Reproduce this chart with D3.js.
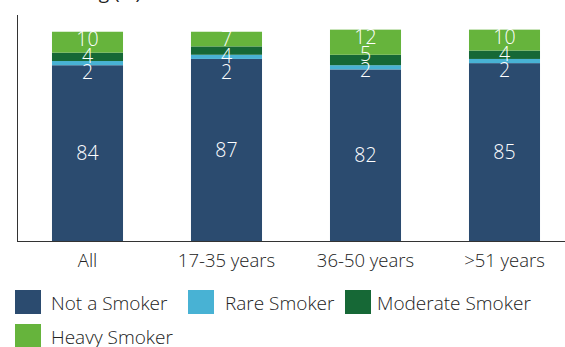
<!DOCTYPE html>
<html><head><meta charset="utf-8">
<script src="https://cdn.jsdelivr.net/npm/d3@7"></script>
<style>
html,body{margin:0;padding:0;background:#fff;}
svg{display:block;font-family:"Open Sans",sans-serif;}
</style></head>
<body>
<svg id="chart" width="565" height="347"></svg>
<script>
const categories = ["All", "17-35 years", "36-50 years", ">51 years"];
const seriesNames = ["Not a Smoker", "Rare Smoker", "Moderate Smoker", "Heavy Smoker"];
const notSmoker = [84, 87, 82, 85];
const rareSmoker = [2, 2, 2, 2];
const moderateSmoker = [4, 4, 5, 4];
const heavySmoker = [10, 7, 12, 10];
const colors = ["#2b4b6f", "#48b2d4", "#166836", "#66b43c"];
const title = "Smoking (%)";

const series = [notSmoker, rareSmoker, moderateSmoker, heavySmoker];
const rows = categories.map((c, i) => {
  const r = {cat: c};
  seriesNames.forEach((s, j) => r[s] = series[j][i]);
  return r;
});

const svg = d3.select("#chart");
const x = d3.scaleBand().domain(categories).range([18, 574]).paddingInner(0.489).paddingOuter(0.2445);
const y = d3.scaleLinear().domain([0, 108]).range([241, 15]);

const stack = d3.stack().keys(seriesNames)(rows);

// title (mostly cropped at top)
svg.append("text").attr("x", 141).attr("y", -1).attr("text-anchor", "end")
  .attr("font-size", 19).attr("fill", "#222").text(title);

const g = svg.append("g");
stack.forEach((layer, j) => {
  g.selectAll(null).data(layer).enter().append("rect")
    .attr("x", d => x(d.data.cat))
    .attr("width", x.bandwidth())
    .attr("y", d => y(d[1]))
    .attr("height", d => y(d[0]) - y(d[1]))
    .attr("fill", colors[j]);
});

// labels
const labelG = svg.append("g").attr("fill", "#fff").attr("font-size", 19.5)
  .attr("font-weight", 300).attr("text-anchor", "middle");
stack.forEach((layer, j) => {
  labelG.selectAll(null).data(layer).enter().append("text")
    .attr("x", d => x(d.data.cat) + x.bandwidth() / 2)
    .attr("y", (d, i) => {
      if (j === 0) return (y(d[0]) + y(d[1])) / 2;
      const top = y(stack[stack.length - 1][i][1]);
      return top + 7.5 + (stack.length - 1 - j) * 16.5;
    })
    .attr("dy", "0.36em")
    .text(d => d[1] - d[0]);
});

// axes
svg.append("line").attr("x1", 17.5).attr("x2", 17.5).attr("y1", 15).attr("y2", 241.5).attr("stroke", "#333").attr("stroke-width", 1);
const xAxis = svg.append("g").attr("transform", "translate(0,241.5)")
  .call(d3.axisBottom(x).tickSize(0).tickPadding(12));
xAxis.select(".domain").attr("d", "M17,0H565").attr("stroke", "#333");
xAxis.selectAll("text").attr("font-size", 18.5).attr("font-weight", 300).attr("fill", "#222").attr("font-family", "'Open Sans',sans-serif");

// legend
const legendItems = [
  {name: seriesNames[0], x: 15, tx: 51, y: 290},
  {name: seriesNames[1], x: 188, tx: 225, y: 290},
  {name: seriesNames[2], x: 345, tx: 377, y: 290},
  {name: seriesNames[3], x: 15, tx: 51, y: 324}
];
const lg = svg.append("g");
legendItems.forEach((it, i) => {
  lg.append("rect").attr("x", it.x).attr("y", it.y).attr("width", 26).attr("height", 24).attr("fill", colors[i]);
  lg.append("text").attr("x", it.tx).attr("y", it.y + 20)
    .attr("font-size", 19).attr("font-weight", 300).attr("fill", "#222").text(it.name);
});
</script>
</body></html>
